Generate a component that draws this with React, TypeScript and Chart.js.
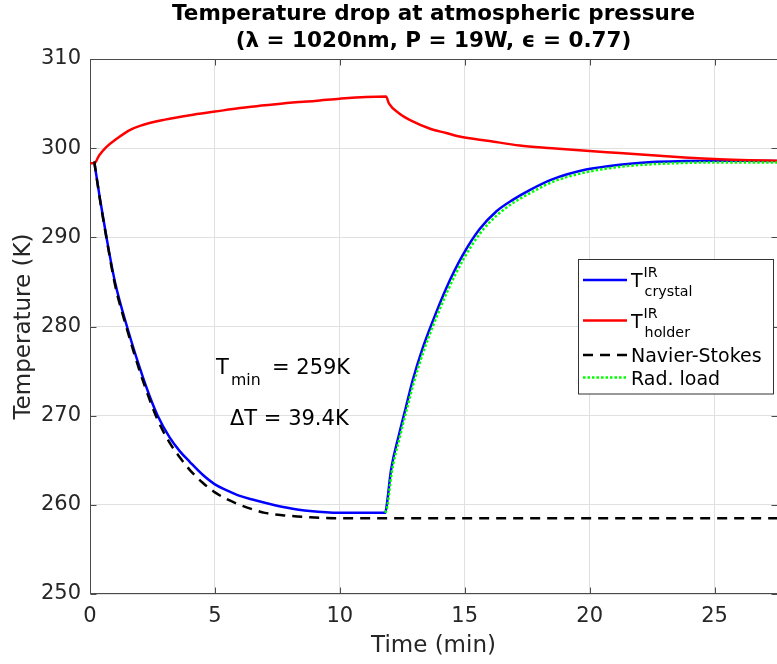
import { useEffect, useRef } from "react";
import { Chart, registerables } from "chart.js";

Chart.register(...registerables);

// IR camera: crystal temperature (K) against time (min)
const crystalTime = [0.17, 0.4, 0.66, 1.0, 1.48, 2.0, 2.4, 2.71, 3.18, 3.6, 4.0, 4.5, 5.0, 5.5, 6.0, 6.5, 7.2, 7.85, 8.8, 10, 11, 11.82, 11.88, 12.05, 12.38, 12.65, 12.92, 13.32, 13.72, 14.26, 14.92, 15.59, 16.26, 16.92, 17.6, 18.5, 19.86, 21.2, 22.5, 23.9, 25.2, 26.4, 27.5];
const crystalTemp = [298.5, 294.3, 290.0, 285.0, 280.0, 275.3, 272.1, 270.0, 267.6, 266.0, 264.8, 263.4, 262.3, 261.6, 261.0, 260.6, 260.1, 259.7, 259.3, 259.1, 259.1, 259.1, 260.0, 263.9, 268.0, 271.0, 274.0, 277.6, 280.6, 284.3, 288.0, 290.9, 292.9, 294.2, 295.3, 296.5, 297.6, 298.15, 298.45, 298.55, 298.6, 298.6, 298.55];

// IR camera: holder temperature
const holderTime = [0, 0.17, 0.37, 0.64, 1.04, 1.57, 2, 3, 4, 5, 6, 7, 8, 9, 10, 11.05, 11.85, 11.97, 12.38, 12.92, 13.59, 14.26, 14.79, 16, 17.2, 18.5, 19.86, 21.2, 22.5, 23.8, 25.2, 26.4, 27.5];
const holderTemp = [298.3, 298.3, 299.2, 300.1, 301.0, 302.0, 302.5, 303.2, 303.7, 304.1, 304.5, 304.8, 305.1, 305.3, 305.55, 305.75, 305.8, 305.0, 303.9, 303.0, 302.2, 301.7, 301.3, 300.8, 300.3, 300.0, 299.7, 299.45, 299.2, 298.95, 298.75, 298.65, 298.6];

// Navier-Stokes simulation
const nsTime = [0.17, 0.4, 0.66, 1.0, 1.48, 2.0, 2.4, 2.71, 3.18, 3.6, 4.0, 4.5, 5.0, 5.5, 6.0, 6.5, 7.0, 7.85, 8.8, 10, 27.5];
const nsTemp = [298.5, 294.2, 289.9, 284.7, 279.7, 274.9, 271.7, 269.5, 267.0, 265.3, 263.9, 262.5, 261.4, 260.6, 260.0, 259.5, 259.1, 258.8, 258.6, 258.5, 258.5];

// Radiative load model (warm-up after the laser is switched off)
const radTime = [11.82, 11.9, 12.07, 12.4, 12.67, 12.95, 13.35, 13.75, 14.3, 14.96, 15.63, 16.3, 16.96, 17.65, 18.5, 19.86, 21.2, 22.5, 23.9, 25.2, 26.4, 27.5];
const radTemp = [259.1, 259.8, 263.5, 267.6, 270.6, 273.6, 277.2, 280.2, 283.9, 287.6, 290.5, 292.5, 293.9, 295.0, 296.2, 297.3, 297.9, 298.2, 298.35, 298.4, 298.4, 298.4];

const timeTicks = [0, 5, 10, 15, 20, 25];
const tempTicks = [250, 260, 270, 280, 290, 300, 310];
const timeRange = [0, 27.5];
const tempRange = [250, 310];

const titleLines = ["Temperature drop at atmospheric pressure", "(\u03bb = 1020nm, P = 19W, \u03f5 = 0.77)"];
const xLabel = "Time (min)";
const yLabel = "Temperature (K)";

const tMin = Math.min(...crystalTemp);
const deltaT = crystalTemp[0] - tMin;
const tMinText = `= ${Math.round(tMin)}K`;
const deltaText = `\u0394T = ${deltaT.toFixed(1)}K`;

const FONT = '"DejaVu Sans", sans-serif';
const AXIS = "#4a4a4a";
const TEXT = "#262626";
const GRID = "#e0e0e0";
const BLUE = "#0000ff";
const RED = "#ff0000";
const GREEN = "#00ff00";
const DASH = [10, 7];
const DOT = [2.5, 2];

const f = (size: number, bold = false) => `${bold ? "bold " : ""}${size}px ${FONT}`;

const toPoints = (xs: number[], ys: number[]) => xs.map((x, i) => ({ x, y: ys[i] }));

// Text with a superscript and subscript stacked after the base glyph
function drawSupSub(ctx: CanvasRenderingContext2D, x: number, y: number, base: string, sup: string, sub: string, size: number) {
  ctx.font = f(size);
  ctx.fillText(base, x, y);
  const w = ctx.measureText(base).width + 1;
  ctx.font = f(size * 0.75);
  if (sup) ctx.fillText(sup, x + w, y - 9.5);
  if (sub) ctx.fillText(sub, x + w + 1, y + 9);
}

const decor = {
  id: "decor",
  beforeDatasetsDraw(chart: any) {
    const { ctx, chartArea: a } = chart;
    const xs = chart.scales.x;
    const ys = chart.scales.y;
    const L = Math.round(a.left) + 0.5;
    const R = Math.round(a.right) + 0.5;
    const T = Math.round(a.top) + 0.5;
    const B = Math.round(a.bottom) - 0.5;
    ctx.save();
    ctx.strokeStyle = AXIS;
    ctx.lineWidth = 1;
    ctx.beginPath();
    ctx.moveTo(L, T);
    ctx.lineTo(R, T);
    ctx.lineTo(R, B);
    ctx.lineTo(L, B);
    ctx.closePath();
    const tick = 6;
    for (const v of timeTicks) {
      const px = Math.round(xs.getPixelForValue(v)) + 0.5;
      ctx.moveTo(px, B);
      ctx.lineTo(px, B - tick);
      ctx.moveTo(px, T);
      ctx.lineTo(px, T + tick);
    }
    for (const v of tempTicks) {
      const py = Math.round(ys.getPixelForValue(v)) + 0.5;
      ctx.moveTo(L, py);
      ctx.lineTo(L + tick, py);
      ctx.moveTo(R, py);
      ctx.lineTo(R - tick, py);
    }
    ctx.stroke();
    ctx.restore();
  },
  afterDraw(chart: any) {
    const { ctx, chartArea: a } = chart;
    const cx = (a.left + a.right) / 2;
    const cy = (a.top + a.bottom) / 2;
    ctx.save();

    // title
    ctx.fillStyle = "#000";
    ctx.textAlign = "center";
    ctx.textBaseline = "alphabetic";
    ctx.font = f(21.5, true);
    ctx.fillText(titleLines[0], cx, 20);
    ctx.fillText(titleLines[1], cx, 47);

    // axis titles
    ctx.fillStyle = TEXT;
    ctx.font = f(23);
    ctx.fillText(xLabel, cx, 652);
    ctx.save();
    ctx.translate(30, cy);
    ctx.rotate(-Math.PI / 2);
    ctx.fillText(yLabel, 0, 0);
    ctx.restore();

    // annotations
    ctx.fillStyle = "#000";
    ctx.textAlign = "left";
    ctx.font = f(21);
    ctx.fillText("T", 216, 374);
    ctx.font = f(15.75);
    ctx.fillText("min", 231, 385);
    ctx.font = f(21);
    ctx.fillText(tMinText, 272, 374);
    ctx.fillText(deltaText, 230, 425);

    // legend
    const lx = 578.5, ly = 259.5, lw = 195, lh = 134.5;
    ctx.fillStyle = "#fff";
    ctx.fillRect(lx, ly, lw, lh);
    ctx.strokeStyle = "#333";
    ctx.lineWidth = 1;
    ctx.strokeRect(lx, ly, lw, lh);

    const items = [
      { y: 280, color: BLUE, dash: [] as number[] },
      { y: 320.5, color: RED, dash: [] as number[] },
      { y: 355, color: "#000", dash: DASH },
      { y: 377.5, color: GREEN, dash: DOT },
    ];
    for (const it of items) {
      ctx.beginPath();
      ctx.strokeStyle = it.color;
      ctx.lineWidth = 2.5;
      ctx.setLineDash(it.dash);
      ctx.moveTo(583, it.y);
      ctx.lineTo(627, it.y);
      ctx.stroke();
    }
    ctx.setLineDash([]);
    ctx.fillStyle = "#000";
    drawSupSub(ctx, 631, 286.5, "T", "IR", "crystal", 19);
    drawSupSub(ctx, 631, 327.5, "T", "IR", "holder", 19);
    ctx.font = f(19);
    ctx.fillText("Navier-Stokes", 631, 362);
    ctx.fillText("Rad. load", 631, 385);
    ctx.restore();
  },
};

export default function App() {
  const ref = useRef<HTMLCanvasElement>(null);

  useEffect(() => {
    const canvas = ref.current;
    if (!canvas) return;
    Chart.defaults.font.family = FONT;

    const line = (label: string, pts: { x: number; y: number }[], color: string, dash: number[], order: number) => ({
      label,
      data: pts,
      borderColor: color,
      backgroundColor: color,
      borderWidth: 2.5,
      borderDash: dash,
      pointRadius: 0,
      fill: false,
      cubicInterpolationMode: "monotone" as const,
      order,
    });

    const chart = new Chart(canvas, {
      type: "line",
      data: {
        datasets: [
          line("T crystal", toPoints(crystalTime, crystalTemp), BLUE, [], 4),
          line("T holder", toPoints(holderTime, holderTemp), RED, [], 3),
          line("Navier-Stokes", toPoints(nsTime, nsTemp), "#000", DASH, 2),
          line("Rad. load", toPoints(radTime, radTemp), GREEN, DOT, 1),
        ],
      },
      options: {
        animation: false,
        responsive: false,
        devicePixelRatio: 1,
        layout: { padding: { top: 59, left: 0, right: 0, bottom: 0 } },
        plugins: {
          legend: { display: false },
          title: { display: false },
          tooltip: { enabled: false },
        },
        scales: {
          x: {
            type: "linear",
            min: timeRange[0],
            max: timeRange[1],
            afterBuildTicks: (s: any) => {
              s.ticks = timeTicks.map((value) => ({ value }));
            },
            afterFit: (s: any) => {
              s.height = 70;
            },
            grid: { color: GRID, lineWidth: 1, drawTicks: false },
            border: { display: false },
            ticks: { font: { size: 21 }, color: TEXT, padding: 10, maxRotation: 0, autoSkip: false },
          },
          y: {
            type: "linear",
            min: tempRange[0],
            max: tempRange[1],
            afterBuildTicks: (s: any) => {
              s.ticks = tempTicks.map((value) => ({ value }));
            },
            afterFit: (s: any) => {
              s.width = 90;
            },
            grid: { color: GRID, lineWidth: 1, drawTicks: false },
            border: { display: false },
            ticks: { font: { size: 21 }, color: TEXT, padding: 9, autoSkip: false },
          },
        },
      },
      plugins: [decor],
    });
    return () => chart.destroy();
  }, []);

  return (
    <div style={{ position: "fixed", left: 0, top: 0, width: 777, height: 664, overflow: "hidden", background: "#fff" }}>
      <canvas ref={ref} width={777} height={664} style={{ display: "block", width: 777, height: 664 }} />
    </div>
  );
}
